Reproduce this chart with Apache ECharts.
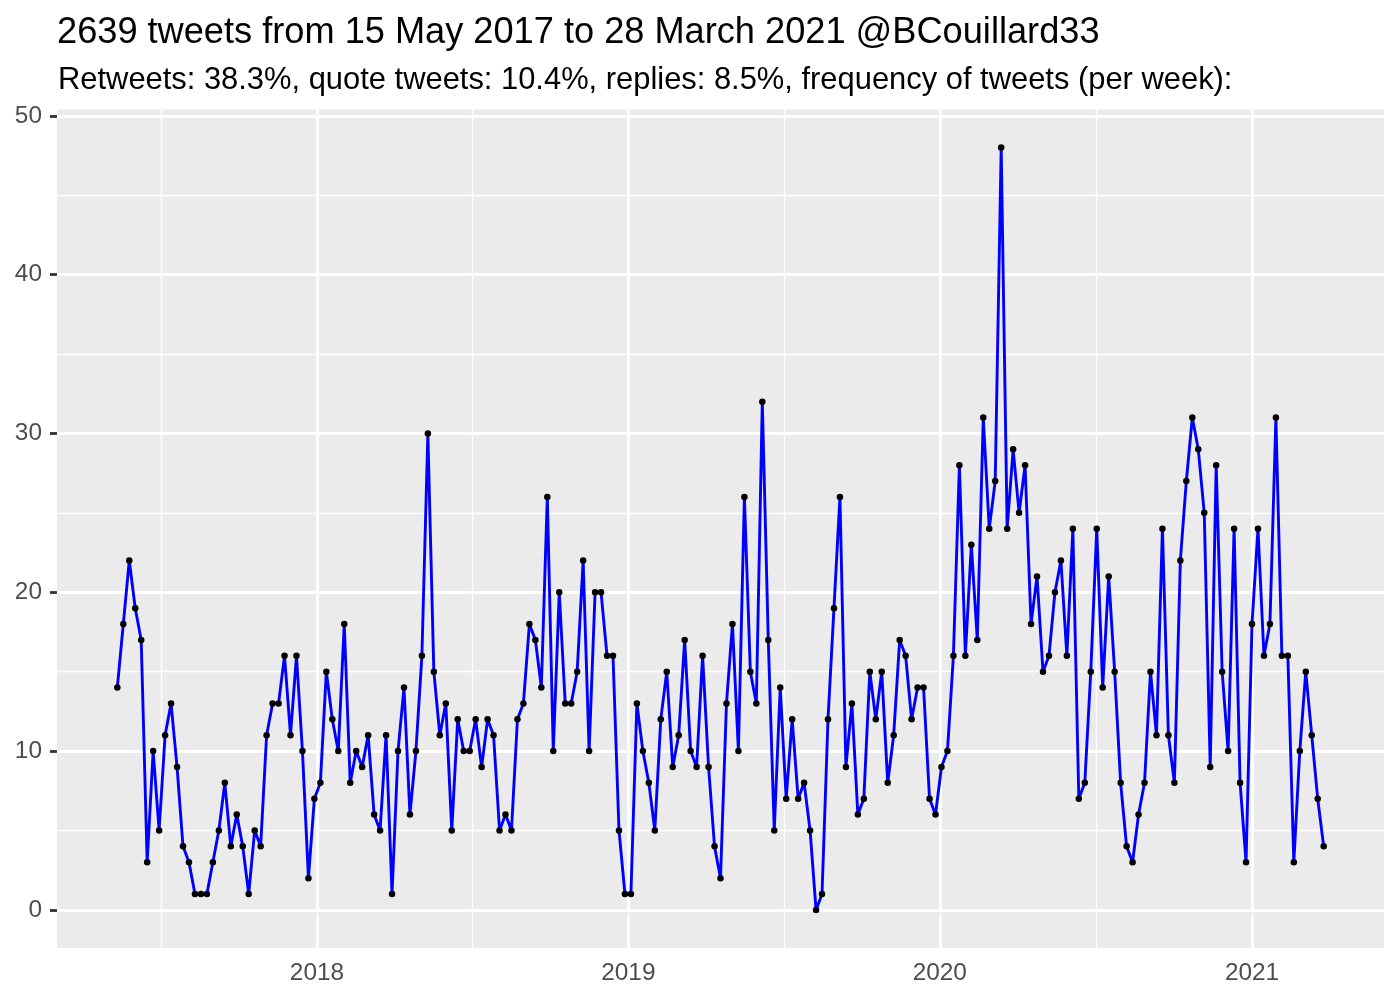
<!DOCTYPE html>
<html>
<head>
<meta charset="utf-8">
<script src="https://cdn.jsdelivr.net/npm/echarts@6/dist/echarts.min.js"></script>
<style>
  html, body { margin: 0; padding: 0; background: #fff; }
  #chart { width: 1400px; height: 1000px; }
</style>
</head>
<body>
<div id="chart"></div>
<script>
// ---- Data ----
const TITLE = '2639 tweets from 15 May 2017 to 28 March 2021 @BCouillard33';
const SUBTITLE = 'Retweets: 38.3%, quote tweets: 10.4%, replies: 8.5%, frequency of tweets (per week):';

// weekly bins, first bin start (UTC)
const FIRST_WEEK = '2017-05-12';
// tweets per week
const tweetsPerWeek = [
  14, 18, 22, 19, 17, 3, 10, 5, 11, 13,
  9, 4, 3, 1, 1, 1, 3, 5, 8, 4,
  6, 4, 1, 5, 4, 11, 13, 13, 16, 11,
  16, 10, 2, 7, 8, 15, 12, 10, 18, 8,
  10, 9, 11, 6, 5, 11, 1, 10, 14, 6,
  10, 16, 30, 15, 11, 13, 5, 12, 10, 10,
  12, 9, 12, 11, 5, 6, 5, 12, 13, 18,
  17, 14, 26, 10, 20, 13, 13, 15, 22, 10,
  20, 20, 16, 16, 5, 1, 1, 13, 10, 8,
  5, 12, 15, 9, 11, 17, 10, 9, 16, 9,
  4, 2, 13, 18, 10, 26, 15, 13, 32, 17,
  5, 14, 7, 12, 7, 8, 5, 0, 1, 12,
  19, 26, 9, 13, 6, 7, 15, 12, 15, 8,
  11, 17, 16, 12, 14, 14, 7, 6, 9, 10,
  16, 28, 16, 23, 17, 31, 24, 27, 48, 24,
  29, 25, 28, 18, 21, 15, 16, 20, 22, 16,
  24, 7, 8, 15, 24, 14, 21, 15, 8, 4,
  3, 6, 8, 15, 11, 24, 11, 8, 22, 27,
  31, 29, 25, 9, 28, 15, 10, 24, 8, 3,
  18, 24, 16, 18, 31, 16, 16, 3, 10, 15,
  11, 7, 4
];

// axis breaks
const xTickYears = ['2018', '2019', '2020', '2021'];
const xMinorYears = ['2017', '2018', '2019', '2020']; // mid-year minor lines
const yTicks = [0, 10, 20, 30, 40, 50];
const yMinor = [5, 15, 25, 35, 45];

// ---- Build ----
const DAY = 86400000;
const firstTs = Date.parse(FIRST_WEEK + 'T00:00:00Z');
const weekTs = tweetsPerWeek.map((_, i) => firstTs + i * 7 * DAY);
const seriesData = weekTs.map((t, i) => [t, tweetsPerWeek[i]]);

const xSpan = weekTs[weekTs.length - 1] - weekTs[0];
const xMin = weekTs[0] - 0.05 * xSpan;
const xMax = weekTs[weekTs.length - 1] + 0.05 * xSpan;
const yLo = Math.min(...tweetsPerWeek), yHi = Math.max(...tweetsPerWeek);
const yMin = yLo - 0.05 * (yHi - yLo);
const yMax = yHi + 0.05 * (yHi - yLo);

const xTickTs = xTickYears.map(y => Date.UTC(+y, 0, 1));
const xMinorTs = xMinorYears.map(y => (Date.UTC(+y, 0, 1) + Date.UTC(+y + 1, 0, 1)) / 2)
  .filter(t => t > xMin && t < xMax);

const FONT = "'Liberation Sans', Arial, Helvetica, sans-serif";
const MAJOR_W = 2.8, MINOR_W = 1.4;

function gridLineSeries(name, xs, ys, width) {
  return {
    name, type: 'line', data: [], silent: true, z: 1,
    markLine: {
      z: 1, silent: true, animation: false, symbol: ['none', 'none'],
      label: { show: false },
      lineStyle: { color: '#FFFFFF', width, type: 'solid', opacity: 1 },
      emphasis: { disabled: true },
      data: xs.map(v => ({ xAxis: v })).concat(ys.map(v => ({ yAxis: v })))
    }
  };
}

const chart = echarts.init(document.getElementById('chart'), null, { renderer: 'canvas' });
chart.setOption({
  animation: false,
  backgroundColor: '#FFFFFF',
  title: [
    { text: TITLE, left: 52, top: 10,
      textStyle: { fontFamily: FONT, fontSize: 36.2, fontWeight: 'normal', color: '#000000', lineHeight: 36 } },
    { text: SUBTITLE, left: 53, top: 60,
      textStyle: { fontFamily: FONT, fontSize: 30.9, fontWeight: 'normal', color: '#000000', lineHeight: 31 } }
  ],
  grid: { left: 57, right: 16, top: 109.5, bottom: 52, show: true, backgroundColor: '#EBEBEB', borderWidth: 0 },
  xAxis: {
    type: 'value', min: xMin, max: xMax,
    axisLine: { show: false },
    splitLine: { show: false },
    axisTick: { show: true, customValues: xTickTs, length: 7, lineStyle: { color: '#333333', width: 2.8 } },
    axisLabel: { customValues: xTickTs, formatter: v => String(new Date(v).getUTCFullYear()),
      color: '#4D4D4D', fontFamily: FONT, fontSize: 24.4, margin: 13 }
  },
  yAxis: {
    type: 'value', min: yMin, max: yMax,
    axisLine: { show: false },
    splitLine: { show: false },
    axisTick: { show: true, customValues: yTicks, length: 7, lineStyle: { color: '#333333', width: 2.8 } },
    axisLabel: { customValues: yTicks, color: '#4D4D4D', fontFamily: FONT, fontSize: 24.4, margin: 15 }
  },
  series: [
    gridLineSeries('minor', xMinorTs, yMinor, MINOR_W),
    gridLineSeries('major', xTickTs, yTicks, MAJOR_W),
    {
      name: 'tweets', type: 'line', z: 3, data: seriesData,
      showSymbol: true, showAllSymbol: true, symbol: 'circle', symbolSize: 6.5,
      itemStyle: { color: '#000000', borderWidth: 0 },
      lineStyle: { color: '#0000FF', width: 2.9 },
      emphasis: { disabled: true }, silent: true
    }
  ]
});
</script>
</body>
</html>
